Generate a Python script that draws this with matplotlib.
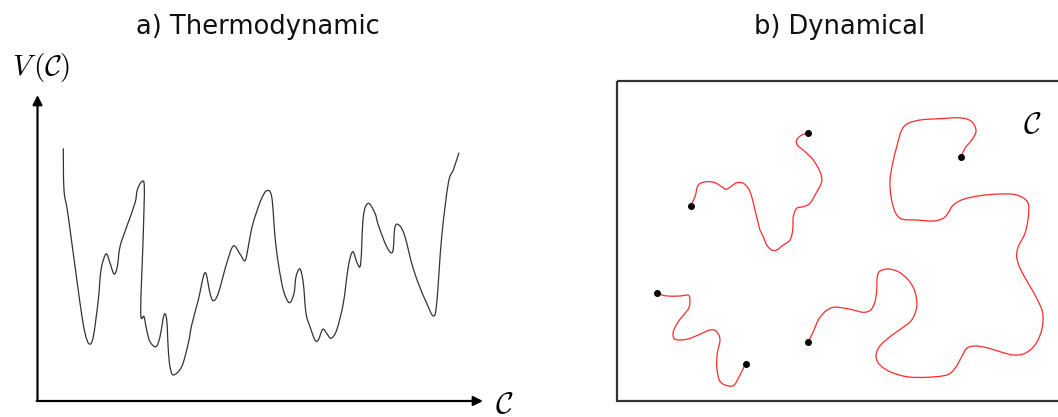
import matplotlib
matplotlib.use("Agg")
import matplotlib.pyplot as plt
from matplotlib.patches import Rectangle, PathPatch
from matplotlib.path import Path

plt.rcParams["mathtext.fontset"] = "cm"

W, H = 1058, 417

# a) potential landscape V(C) (pixel units)
pot_x = [63.3, 64, 68.3, 80, 85, 89.3, 93.3, 98.3, 101, 106, 110, 114, 117.3, 120,
         126.7, 135, 137.3, 141.7, 144.3, 143.3, 140.7, 144, 146.7, 150, 156, 160,
         164, 166.7, 168.3, 170, 173.3, 181.7, 188.3, 191.7, 198.3, 205, 210, 213.3,
         218.3, 226.7, 233.3, 240, 245, 248.3, 251.7, 256.7, 261.7, 266.7, 271.7,
         275, 278.3, 283.3, 289.3, 294, 296, 300, 303.3, 306, 310, 315, 318.3,
         322.7, 326.7, 331, 336.7, 343.3, 348.3, 352.7, 357.3, 360.7, 363.3, 368.3,
         375, 378.3, 386.7, 392.7, 395, 400, 405, 411.7, 418.3, 426.7, 433.3, 436.7,
         441.7, 448.3, 453.3, 459]
pot_y = [148.3, 190, 216.7, 303, 333, 344, 336.7, 300, 270, 254, 263, 274, 266.7,
         246.7, 226.7, 203, 190, 181.7, 186.7, 233, 311.7, 316.7, 330, 341.7, 346.7,
         336.7, 315, 320, 350, 366.7, 375, 366.7, 343.3, 325, 300, 272.7, 293.3,
         300.7, 293.3, 263.3, 246, 254, 260.7, 246.7, 228.3, 211.7, 198.3, 190.7,
         196.7, 236.7, 263.3, 290, 302.7, 293.3, 276.7, 269, 283.3, 313.3, 326.7,
         340, 340, 329.3, 333.3, 338.3, 330, 303.3, 266.7, 251.7, 263.3, 263.3,
         216.7, 203.3, 213.3, 225, 246.7, 251.7, 226.7, 226, 236.7, 263.3, 283.3,
         303.3, 316, 303.3, 236.7, 183.3, 170, 152.7]

# b) trajectories in configuration space
traj1_x = [690.7, 695, 698.3, 706.7, 715, 721.7, 726, 730.7, 736.7, 743.3, 748.3,
           751.7, 755, 758.3, 760, 763.3, 766.7, 771.7, 776.7, 783.3, 790, 792.7,
           793.3, 796.7, 803.3, 810, 816, 821.7, 820, 813.3, 805, 797.3, 796.7,
           801.7, 808.3]
traj1_y = [205.7, 196.7, 185, 181.7, 182.7, 186.7, 189.3, 186.7, 182.7, 183.3, 188.3,
           196.7, 210, 223.3, 230, 236.7, 245, 250, 250, 245, 240, 230, 216.7, 208.3,
           206.7, 203.3, 193.3, 181.7, 171.7, 160, 151.7, 145, 140, 135, 133.3]

traj2_x = [961, 965, 971.7, 976, 973.3, 966.7, 956.7, 946.7, 933.3, 920, 908.3,
           901.7, 896.7, 892.7, 890, 891, 895, 901.7, 916.7, 933.3, 943.3, 948.3,
           953.3, 963.3, 980, 1000, 1016.7, 1027.7, 1028.3, 1025, 1018.3, 1016.7,
           1020, 1028.3, 1036.7, 1042.7, 1041.7, 1035, 1025, 1013.3, 1000, 986.7,
           975, 966.7, 961.7, 955, 946.7, 926.7, 906.7, 890, 880, 876, 879.3, 890,
           901.7, 911.7, 916.7, 915, 908.3, 898.3, 888.3, 880, 877.3, 876.7, 875,
           870.7, 863.3, 853.3, 843.3, 833.3, 825, 818.3, 813.3, 808.3]
traj2_y = [157, 148.3, 140, 131.7, 123.3, 119, 117.7, 118.3, 119, 120, 123.3, 130,
           146.7, 163.3, 180, 196.7, 211.7, 219, 220, 221, 218.3, 212.7, 205, 199.3,
           195.7, 194, 195, 202.3, 216.7, 233.3, 246.7, 256.7, 268.3, 283.3, 298.3,
           313.3, 330, 345, 353.3, 355, 351.7, 347.7, 346, 348.3, 356.7, 368.3, 375,
           377.3, 376.7, 371.7, 365, 356.7, 346.7, 336.7, 328.3, 320, 306.7, 291.7,
           280, 271.7, 269, 271, 276.7, 290, 301.7, 310, 312.3, 310, 308, 307.3,
           311.7, 320, 331.7, 341.7]

traj3_x = [656.7, 666.7, 680, 689, 689.3, 685, 678.3, 673.3, 675, 686.7, 698.3, 710,
           716.7, 720, 717.3, 716.7, 719.3, 725, 733.3, 738.3, 743.3, 745.7]
traj3_y = [293.3, 296, 296, 295.7, 306.7, 313.3, 321.7, 331.7, 339.3, 339.3, 335,
           330, 331.7, 340, 353.3, 366.7, 380, 385, 385.7, 378.3, 368.3, 364]


def smooth_path(xs, ys):
    """Path through the points, drawn as cubic Bezier segments (Catmull-Rom handles)."""
    pts = list(zip(xs, ys))
    verts = [pts[0]]
    codes = [Path.MOVETO]
    n = len(pts)
    for i in range(n - 1):
        p0 = pts[max(i - 1, 0)]
        p1 = pts[i]
        p2 = pts[i + 1]
        p3 = pts[min(i + 2, n - 1)]
        c1 = (p1[0] + (p2[0] - p0[0]) / 6, p1[1] + (p2[1] - p0[1]) / 6)
        c2 = (p2[0] - (p3[0] - p1[0]) / 6, p2[1] - (p3[1] - p1[1]) / 6)
        verts += [c1, c2, p2]
        codes += [Path.CURVE4] * 3
    return Path(verts, codes)


fig = plt.figure(figsize=(W / 100, H / 100), dpi=100)
ax = fig.add_axes([0, 0, 1, 1])
ax.set_xlim(0, W)
ax.set_ylim(H, 0)
ax.axis("off")

# panel a
ax.add_patch(PathPatch(smooth_path(pot_x, pot_y), fill=False,
                       edgecolor="#333333", lw=0.9))
arrow = dict(arrowstyle="-|>", color="black", lw=1.6, mutation_scale=14,
             shrinkA=0, shrinkB=0)
ax.annotate("", xy=(37.5, 95), xytext=(37.5, 401), arrowprops=arrow)
ax.annotate("", xy=(483, 401), xytext=(36.7, 401), arrowprops=arrow)
ax.text(41, 67, r"$V\,(\mathcal{C})$", fontsize=21, ha="center", va="center")
ax.text(504, 404, r"$\mathcal{C}$", fontsize=22, ha="center", va="center")
ax.text(258, 27, "a) Thermodynamic", fontsize=18.5, ha="center", va="center",
        color="#111111")

# panel b
ax.add_patch(Rectangle((617, 81), 460, 320, fill=False, edgecolor="#333333",
                       lw=1.6, clip_on=False))
for tx, ty in [(traj1_x, traj1_y), (traj2_x, traj2_y), (traj3_x, traj3_y)]:
    ax.add_patch(PathPatch(smooth_path(tx, ty), fill=False,
                           edgecolor="#ff2a2a", lw=0.9))
    ax.plot([tx[0], tx[-1]], [ty[0], ty[-1]], "o", color="black", ms=4)
ax.text(1032, 124, r"$\mathcal{C}$", fontsize=22, ha="center", va="center")
ax.text(840, 27, "b) Dynamical", fontsize=18.5, ha="center", va="center",
        color="#111111")

fig.savefig("out.png", dpi=100)
